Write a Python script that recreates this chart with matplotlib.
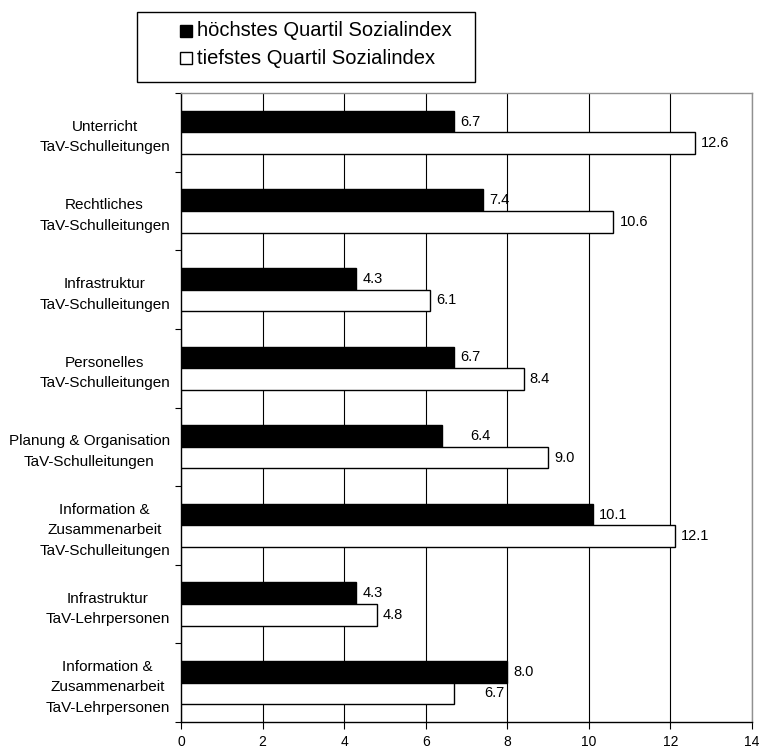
import matplotlib
matplotlib.use("Agg")
import matplotlib.pyplot as plt
import numpy as np
from matplotlib.patches import Rectangle

plt.rcParams['font.family'] = ['Liberation Sans', 'DejaVu Sans']

categories = [
    "Unterricht\nTaV-Schulleitungen",
    "Rechtliches\nTaV-Schulleitungen",
    "Infrastruktur\nTaV-Schulleitungen",
    "Personelles\nTaV-Schulleitungen",
    "Planung & Organisation\nTaV-Schulleitungen",
    "Information &\nZusammenarbeit\nTaV-Schulleitungen",
    "Infrastruktur\nTaV-Lehrpersonen",
    "Information &\nZusammenarbeit\nTaV-Lehrpersonen",
]
hoechstes = [6.7, 7.4, 4.3, 6.7, 6.4, 10.1, 4.3, 8.0]
tiefstes = [12.6, 10.6, 6.1, 8.4, 9.0, 12.1, 4.8, 6.7]
series_names = ["höchstes Quartil Sozialindex", "tiefstes Quartil Sozialindex"]
xticks = [0, 2, 4, 6, 8, 10, 12, 14]

W, H = 760, 752
fig = plt.figure(figsize=(W/100, H/100), dpi=100)
ax = fig.add_axes([181/W, 1-722/H, (752-181)/W, (722-93)/H])

n = len(categories)
y = np.arange(n)
h = 0.275
ax.barh(y - h/2, hoechstes, height=h, color='black', edgecolor='black', linewidth=1.0, zorder=3)
ax.barh(y + h/2, tiefstes, height=h, color='white', edgecolor='black', linewidth=1.0, zorder=3)

fs_val = 10.5
for i, v in enumerate(hoechstes):
    dx, ha = 0.15, 'left'
    if i == 4:
        dx, ha = 0.95, 'center'
    ax.text(v + dx, i - h/2, f"{v:.1f}", va='center', ha=ha, fontsize=fs_val, zorder=4)
for i, v in enumerate(tiefstes):
    if i == 7:
        ax.text(hoechstes[i] - 0.07, i + h/2, f"{v:.1f}", va='center', ha='right', fontsize=fs_val, zorder=4)
    else:
        ax.text(v + 0.15, i + h/2, f"{v:.1f}", va='center', ha='left', fontsize=fs_val, zorder=4)

ax.set_xlim(0, 14)
ax.set_ylim(n - 0.5, -0.5)
ax.set_xticks(xticks)
ax.set_xticklabels([str(t) for t in xticks], fontsize=10)
ax.set_yticks(y)
ax.set_yticklabels(categories, fontsize=11, ha='right', linespacing=1.6)
ax.tick_params(axis='y', which='major', length=0, pad=8)
ax.set_yticks(np.arange(n + 1) - 0.5, minor=True)
ax.tick_params(axis='y', which='minor', length=4, direction='out', width=0.8)
ax.tick_params(axis='x', length=5, direction='out', width=0.8, pad=4)
for t in ax.get_yticklabels():
    t.set_multialignment('center')

ax.grid(axis='x', color='black', linewidth=0.8, zorder=0)
for s in ['top', 'right']:
    ax.spines[s].set_color('#909090')
    ax.spines[s].set_linewidth(1.0)
ax.spines['left'].set_linewidth(1.0)
ax.spines['bottom'].set_linewidth(1.0)

# legend drawn manually to match the original box
def fx(px):
    return px / W
def fy(py):
    return 1 - py / H

fig.patches.append(Rectangle((fx(137), fy(82)), fx(475) - fx(137), fy(12) - fy(82),
                             transform=fig.transFigure, facecolor='white',
                             edgecolor='black', linewidth=1.0))
rows_y = [31, 58]
colors = ['black', 'white']
for name, col, ry in zip(series_names, colors, rows_y):
    sq = 12
    fig.patches.append(Rectangle((fx(180), fy(ry + sq/2)), fx(sq), sq / H,
                                 transform=fig.transFigure, facecolor=col,
                                 edgecolor='black', linewidth=1.0))
    fig.text(fx(197), fy(ry), name, fontsize=14.5, va='center', ha='left')

fig.savefig("out.png", dpi=100)
